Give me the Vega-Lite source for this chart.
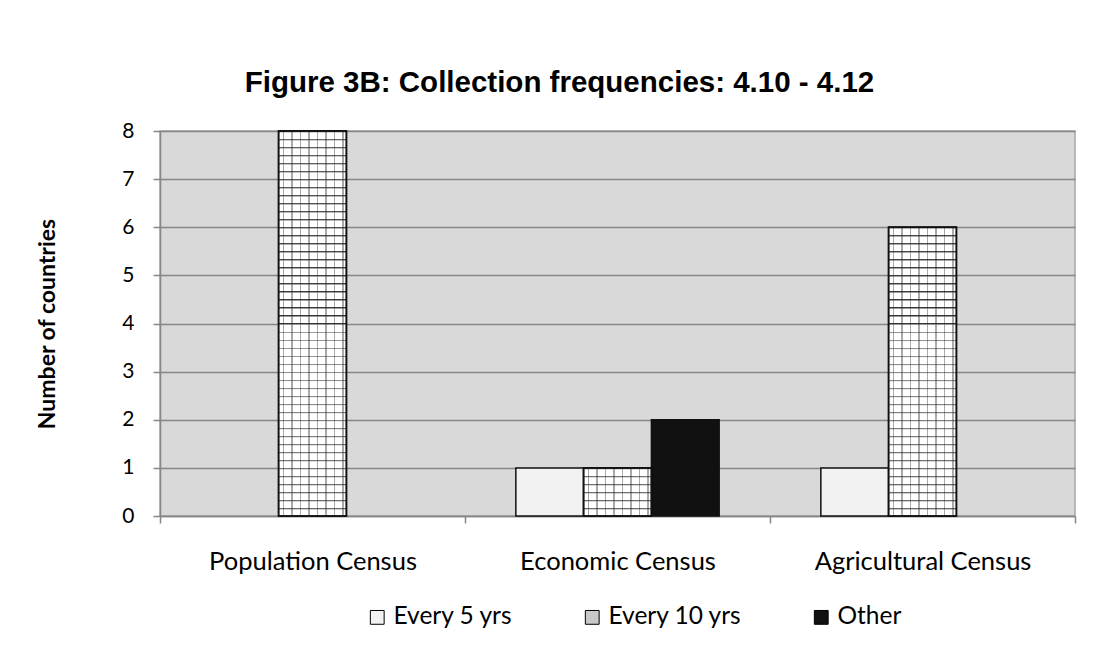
{
  "$schema": "https://vega.github.io/schema/vega-lite/v6.json",
  "width": 915,
  "height": 385,
  "autosize": {"type": "none"},
  "padding": {"left": 160, "top": 131, "right": 43, "bottom": 151},
  "background": "white",
  "title": {"text": "Figure 3B: Collection frequencies: 4.10 - 4.12", "font": "Liberation Sans", "fontSize": 29.5, "fontWeight": "bold", "color": "#000000", "anchor": "middle", "dx": -58, "offset": 22},
  "data": {"values": [
    {"census": "Population Census", "freq": "Every 10 yrs", "count": 8},
    {"census": "Economic Census", "freq": "Every 5 yrs", "count": 1},
    {"census": "Economic Census", "freq": "Every 10 yrs", "count": 1},
    {"census": "Economic Census", "freq": "Other", "count": 2},
    {"census": "Agricultural Census", "freq": "Every 5 yrs", "count": 1},
    {"census": "Agricultural Census", "freq": "Every 10 yrs", "count": 6}
  ]},
  "encoding": {
    "x": {"field": "census", "type": "nominal", "sort": ["Population Census", "Economic Census", "Agricultural Census"],
      "scale": {"paddingInner": 0, "paddingOuter": 0},
      "axis": {"title": null, "labelAngle": 0, "labelLimit": 400, "grid": false, "domainColor": "#868686", "domainWidth": 1.5, "tickColor": "#868686", "tickWidth": 1.5, "tickSize": 7, "tickBand": "extent", "labelFont": "Lato", "labelFontSize": 25.5, "labelColor": "#000000", "labelPadding": 26}},
    "xOffset": {"field": "freq", "type": "nominal", "scale": {"domain": ["Every 5 yrs", "Every 10 yrs", "Other"], "paddingInner": 0, "paddingOuter": 0.75}},
    "y": {"field": "count", "type": "quantitative", "scale": {"domain": [0, 8], "nice": false},
      "axis": {"values": [0, 1, 2, 3, 4, 5, 6, 7, 8], "title": "Number of countries", "titleFont": "Lato", "titleFontSize": 23, "titleFontWeight": "bold", "titleColor": "#000000", "titlePadding": 62, "labelFont": "Lato", "labelFontSize": 21, "labelColor": "#000000", "labelPadding": 19, "tickSize": 7, "tickColor": "#868686", "tickWidth": 1.5, "domainColor": "#868686", "domainWidth": 1.5, "gridColor": "#868686", "gridWidth": 1.5}}
  },
  "layer": [
    {
      "mark": {"type": "bar", "stroke": "#111111", "strokeWidth": 1.5},
      "encoding": {
        "fill": {"field": "freq", "type": "nominal", "scale": {"domain": ["Every 5 yrs", "Every 10 yrs", "Other"], "range": ["#F2F2F2", "#C8C8C8", "#111111"]},
          "legend": {"title": null, "orient": "none", "legendX": 205, "legendY": 474, "direction": "horizontal", "symbolType": "square", "symbolSize": 190, "symbolStrokeColor": "#000000", "symbolStrokeWidth": 1, "labelFont": "Lato", "labelFontSize": 24.5, "labelLimit": 300, "labelColor": "#000000", "columnPadding": 67, "labelOffset": 4}}
      }
    },
    {
      "transform": [{"filter": "datum.freq === 'Every 10 yrs' && datum.count === 8"}],
      "mark": {"type": "bar", "stroke": "#111111", "strokeWidth": 1.5, "fill": {"gradient": "linear", "x1": 0, "y1": 0, "x2": 0, "y2": 1, "stops": [
        {"offset": 0, "color": "#333"}, {"offset": 0.005, "color": "#fff"}, {"offset": 0.0208, "color": "#fff"},
        {"offset": 0.0208, "color": "#333"}, {"offset": 0.0258, "color": "#fff"}, {"offset": 0.0417, "color": "#fff"},
        {"offset": 0.0417, "color": "#333"}, {"offset": 0.0467, "color": "#fff"}, {"offset": 0.0625, "color": "#fff"},
        {"offset": 0.0625, "color": "#333"}, {"offset": 0.0675, "color": "#fff"}, {"offset": 0.0833, "color": "#fff"},
        {"offset": 0.0833, "color": "#333"}, {"offset": 0.0883, "color": "#fff"}, {"offset": 0.1042, "color": "#fff"},
        {"offset": 0.1042, "color": "#333"}, {"offset": 0.1092, "color": "#fff"}, {"offset": 0.125, "color": "#fff"},
        {"offset": 0.125, "color": "#333"}, {"offset": 0.13, "color": "#fff"}, {"offset": 0.1458, "color": "#fff"},
        {"offset": 0.1458, "color": "#333"}, {"offset": 0.1508, "color": "#fff"}, {"offset": 0.1667, "color": "#fff"},
        {"offset": 0.1667, "color": "#333"}, {"offset": 0.1717, "color": "#fff"}, {"offset": 0.1875, "color": "#fff"},
        {"offset": 0.1875, "color": "#333"}, {"offset": 0.1925, "color": "#fff"}, {"offset": 0.2083, "color": "#fff"},
        {"offset": 0.2083, "color": "#333"}, {"offset": 0.2133, "color": "#fff"}, {"offset": 0.2292, "color": "#fff"},
        {"offset": 0.2292, "color": "#333"}, {"offset": 0.2342, "color": "#fff"}, {"offset": 0.25, "color": "#fff"},
        {"offset": 0.25, "color": "#333"}, {"offset": 0.255, "color": "#fff"}, {"offset": 0.2708, "color": "#fff"},
        {"offset": 0.2708, "color": "#333"}, {"offset": 0.2758, "color": "#fff"}, {"offset": 0.2917, "color": "#fff"},
        {"offset": 0.2917, "color": "#333"}, {"offset": 0.2967, "color": "#fff"}, {"offset": 0.3125, "color": "#fff"},
        {"offset": 0.3125, "color": "#333"}, {"offset": 0.3175, "color": "#fff"}, {"offset": 0.3333, "color": "#fff"},
        {"offset": 0.3333, "color": "#333"}, {"offset": 0.3383, "color": "#fff"}, {"offset": 0.3542, "color": "#fff"},
        {"offset": 0.3542, "color": "#333"}, {"offset": 0.3592, "color": "#fff"}, {"offset": 0.375, "color": "#fff"},
        {"offset": 0.375, "color": "#333"}, {"offset": 0.38, "color": "#fff"}, {"offset": 0.3958, "color": "#fff"},
        {"offset": 0.3958, "color": "#333"}, {"offset": 0.4008, "color": "#fff"}, {"offset": 0.4167, "color": "#fff"},
        {"offset": 0.4167, "color": "#333"}, {"offset": 0.4217, "color": "#fff"}, {"offset": 0.4375, "color": "#fff"},
        {"offset": 0.4375, "color": "#333"}, {"offset": 0.4425, "color": "#fff"}, {"offset": 0.4583, "color": "#fff"},
        {"offset": 0.4583, "color": "#333"}, {"offset": 0.4633, "color": "#fff"}, {"offset": 0.4792, "color": "#fff"},
        {"offset": 0.4792, "color": "#333"}, {"offset": 0.4842, "color": "#fff"}, {"offset": 0.5, "color": "#fff"},
        {"offset": 0.5, "color": "#333"}, {"offset": 0.505, "color": "#fff"}, {"offset": 0.5208, "color": "#fff"},
        {"offset": 0.5208, "color": "#333"}, {"offset": 0.5258, "color": "#fff"}, {"offset": 0.5417, "color": "#fff"},
        {"offset": 0.5417, "color": "#333"}, {"offset": 0.5467, "color": "#fff"}, {"offset": 0.5625, "color": "#fff"},
        {"offset": 0.5625, "color": "#333"}, {"offset": 0.5675, "color": "#fff"}, {"offset": 0.5833, "color": "#fff"},
        {"offset": 0.5833, "color": "#333"}, {"offset": 0.5883, "color": "#fff"}, {"offset": 0.6042, "color": "#fff"},
        {"offset": 0.6042, "color": "#333"}, {"offset": 0.6092, "color": "#fff"}, {"offset": 0.625, "color": "#fff"},
        {"offset": 0.625, "color": "#333"}, {"offset": 0.63, "color": "#fff"}, {"offset": 0.6458, "color": "#fff"},
        {"offset": 0.6458, "color": "#333"}, {"offset": 0.6508, "color": "#fff"}, {"offset": 0.6667, "color": "#fff"},
        {"offset": 0.6667, "color": "#333"}, {"offset": 0.6717, "color": "#fff"}, {"offset": 0.6875, "color": "#fff"},
        {"offset": 0.6875, "color": "#333"}, {"offset": 0.6925, "color": "#fff"}, {"offset": 0.7083, "color": "#fff"},
        {"offset": 0.7083, "color": "#333"}, {"offset": 0.7133, "color": "#fff"}, {"offset": 0.7292, "color": "#fff"},
        {"offset": 0.7292, "color": "#333"}, {"offset": 0.7342, "color": "#fff"}, {"offset": 0.75, "color": "#fff"},
        {"offset": 0.75, "color": "#333"}, {"offset": 0.755, "color": "#fff"}, {"offset": 0.7708, "color": "#fff"},
        {"offset": 0.7708, "color": "#333"}, {"offset": 0.7758, "color": "#fff"}, {"offset": 0.7917, "color": "#fff"},
        {"offset": 0.7917, "color": "#333"}, {"offset": 0.7967, "color": "#fff"}, {"offset": 0.8125, "color": "#fff"},
        {"offset": 0.8125, "color": "#333"}, {"offset": 0.8175, "color": "#fff"}, {"offset": 0.8333, "color": "#fff"},
        {"offset": 0.8333, "color": "#333"}, {"offset": 0.8383, "color": "#fff"}, {"offset": 0.8542, "color": "#fff"},
        {"offset": 0.8542, "color": "#333"}, {"offset": 0.8592, "color": "#fff"}, {"offset": 0.875, "color": "#fff"},
        {"offset": 0.875, "color": "#333"}, {"offset": 0.88, "color": "#fff"}, {"offset": 0.8958, "color": "#fff"},
        {"offset": 0.8958, "color": "#333"}, {"offset": 0.9008, "color": "#fff"}, {"offset": 0.9167, "color": "#fff"},
        {"offset": 0.9167, "color": "#333"}, {"offset": 0.9217, "color": "#fff"}, {"offset": 0.9375, "color": "#fff"},
        {"offset": 0.9375, "color": "#333"}, {"offset": 0.9425, "color": "#fff"}, {"offset": 0.9583, "color": "#fff"},
        {"offset": 0.9583, "color": "#333"}, {"offset": 0.9633, "color": "#fff"}, {"offset": 0.9792, "color": "#fff"},
        {"offset": 0.9792, "color": "#333"}, {"offset": 0.9842, "color": "#fff"}, {"offset": 1, "color": "#fff"}
      ]}}
    },
    {
      "transform": [{"filter": "datum.freq === 'Every 10 yrs' && datum.count === 6"}],
      "mark": {"type": "bar", "stroke": "#111111", "strokeWidth": 1.5, "fill": {"gradient": "linear", "x1": 0, "y1": 0, "x2": 0, "y2": 1, "stops": [
        {"offset": 0, "color": "#333"}, {"offset": 0.007, "color": "#fff"}, {"offset": 0.0278, "color": "#fff"},
        {"offset": 0.0278, "color": "#333"}, {"offset": 0.0348, "color": "#fff"}, {"offset": 0.0556, "color": "#fff"},
        {"offset": 0.0556, "color": "#333"}, {"offset": 0.0626, "color": "#fff"}, {"offset": 0.0833, "color": "#fff"},
        {"offset": 0.0833, "color": "#333"}, {"offset": 0.0903, "color": "#fff"}, {"offset": 0.1111, "color": "#fff"},
        {"offset": 0.1111, "color": "#333"}, {"offset": 0.1181, "color": "#fff"}, {"offset": 0.1389, "color": "#fff"},
        {"offset": 0.1389, "color": "#333"}, {"offset": 0.1459, "color": "#fff"}, {"offset": 0.1667, "color": "#fff"},
        {"offset": 0.1667, "color": "#333"}, {"offset": 0.1737, "color": "#fff"}, {"offset": 0.1944, "color": "#fff"},
        {"offset": 0.1944, "color": "#333"}, {"offset": 0.2014, "color": "#fff"}, {"offset": 0.2222, "color": "#fff"},
        {"offset": 0.2222, "color": "#333"}, {"offset": 0.2292, "color": "#fff"}, {"offset": 0.25, "color": "#fff"},
        {"offset": 0.25, "color": "#333"}, {"offset": 0.257, "color": "#fff"}, {"offset": 0.2778, "color": "#fff"},
        {"offset": 0.2778, "color": "#333"}, {"offset": 0.2848, "color": "#fff"}, {"offset": 0.3056, "color": "#fff"},
        {"offset": 0.3056, "color": "#333"}, {"offset": 0.3126, "color": "#fff"}, {"offset": 0.3333, "color": "#fff"},
        {"offset": 0.3333, "color": "#333"}, {"offset": 0.3403, "color": "#fff"}, {"offset": 0.3611, "color": "#fff"},
        {"offset": 0.3611, "color": "#333"}, {"offset": 0.3681, "color": "#fff"}, {"offset": 0.3889, "color": "#fff"},
        {"offset": 0.3889, "color": "#333"}, {"offset": 0.3959, "color": "#fff"}, {"offset": 0.4167, "color": "#fff"},
        {"offset": 0.4167, "color": "#333"}, {"offset": 0.4237, "color": "#fff"}, {"offset": 0.4444, "color": "#fff"},
        {"offset": 0.4444, "color": "#333"}, {"offset": 0.4514, "color": "#fff"}, {"offset": 0.4722, "color": "#fff"},
        {"offset": 0.4722, "color": "#333"}, {"offset": 0.4792, "color": "#fff"}, {"offset": 0.5, "color": "#fff"},
        {"offset": 0.5, "color": "#333"}, {"offset": 0.507, "color": "#fff"}, {"offset": 0.5278, "color": "#fff"},
        {"offset": 0.5278, "color": "#333"}, {"offset": 0.5348, "color": "#fff"}, {"offset": 0.5556, "color": "#fff"},
        {"offset": 0.5556, "color": "#333"}, {"offset": 0.5626, "color": "#fff"}, {"offset": 0.5833, "color": "#fff"},
        {"offset": 0.5833, "color": "#333"}, {"offset": 0.5903, "color": "#fff"}, {"offset": 0.6111, "color": "#fff"},
        {"offset": 0.6111, "color": "#333"}, {"offset": 0.6181, "color": "#fff"}, {"offset": 0.6389, "color": "#fff"},
        {"offset": 0.6389, "color": "#333"}, {"offset": 0.6459, "color": "#fff"}, {"offset": 0.6667, "color": "#fff"},
        {"offset": 0.6667, "color": "#333"}, {"offset": 0.6737, "color": "#fff"}, {"offset": 0.6944, "color": "#fff"},
        {"offset": 0.6944, "color": "#333"}, {"offset": 0.7014, "color": "#fff"}, {"offset": 0.7222, "color": "#fff"},
        {"offset": 0.7222, "color": "#333"}, {"offset": 0.7292, "color": "#fff"}, {"offset": 0.75, "color": "#fff"},
        {"offset": 0.75, "color": "#333"}, {"offset": 0.757, "color": "#fff"}, {"offset": 0.7778, "color": "#fff"},
        {"offset": 0.7778, "color": "#333"}, {"offset": 0.7848, "color": "#fff"}, {"offset": 0.8056, "color": "#fff"},
        {"offset": 0.8056, "color": "#333"}, {"offset": 0.8126, "color": "#fff"}, {"offset": 0.8333, "color": "#fff"},
        {"offset": 0.8333, "color": "#333"}, {"offset": 0.8403, "color": "#fff"}, {"offset": 0.8611, "color": "#fff"},
        {"offset": 0.8611, "color": "#333"}, {"offset": 0.8681, "color": "#fff"}, {"offset": 0.8889, "color": "#fff"},
        {"offset": 0.8889, "color": "#333"}, {"offset": 0.8959, "color": "#fff"}, {"offset": 0.9167, "color": "#fff"},
        {"offset": 0.9167, "color": "#333"}, {"offset": 0.9237, "color": "#fff"}, {"offset": 0.9444, "color": "#fff"},
        {"offset": 0.9444, "color": "#333"}, {"offset": 0.9514, "color": "#fff"}, {"offset": 0.9722, "color": "#fff"},
        {"offset": 0.9722, "color": "#333"}, {"offset": 0.9792, "color": "#fff"}, {"offset": 1, "color": "#fff"}
      ]}}
    },
    {
      "transform": [{"filter": "datum.freq === 'Every 10 yrs' && datum.count === 1"}],
      "mark": {"type": "bar", "stroke": "#111111", "strokeWidth": 1.5, "fill": {"gradient": "linear", "x1": 0, "y1": 0, "x2": 0, "y2": 1, "stops": [
        {"offset": 0, "color": "#333"}, {"offset": 0.04, "color": "#fff"}, {"offset": 0.1667, "color": "#fff"},
        {"offset": 0.1667, "color": "#333"}, {"offset": 0.2067, "color": "#fff"}, {"offset": 0.3333, "color": "#fff"},
        {"offset": 0.3333, "color": "#333"}, {"offset": 0.3733, "color": "#fff"}, {"offset": 0.5, "color": "#fff"},
        {"offset": 0.5, "color": "#333"}, {"offset": 0.54, "color": "#fff"}, {"offset": 0.6667, "color": "#fff"},
        {"offset": 0.6667, "color": "#333"}, {"offset": 0.7067, "color": "#fff"}, {"offset": 0.8333, "color": "#fff"},
        {"offset": 0.8333, "color": "#333"}, {"offset": 0.8733, "color": "#fff"}, {"offset": 1, "color": "#fff"}
      ]}}
    },
    {
      "transform": [{"filter": "datum.freq === 'Every 10 yrs'"}],
      "mark": {"type": "bar", "stroke": "#111111", "strokeWidth": 1.5, "fill": {"gradient": "linear", "x1": 0, "y1": 0, "x2": 1, "y2": 0, "stops": [
        {"offset": 0, "color": "rgba(0,0,0,0)"}, {"offset": 0.0625, "color": "rgba(0,0,0,0)"}, {"offset": 0.0625, "color": "rgba(40,40,40,0.4)"}, {"offset": 0.0825, "color": "rgba(40,40,40,0.4)"}, {"offset": 0.0825, "color": "rgba(0,0,0,0)"},
        {"offset": 0.1875, "color": "rgba(0,0,0,0)"}, {"offset": 0.1875, "color": "rgba(40,40,40,0.4)"}, {"offset": 0.2075, "color": "rgba(40,40,40,0.4)"}, {"offset": 0.2075, "color": "rgba(0,0,0,0)"},
        {"offset": 0.3125, "color": "rgba(0,0,0,0)"}, {"offset": 0.3125, "color": "rgba(40,40,40,0.4)"}, {"offset": 0.3325, "color": "rgba(40,40,40,0.4)"}, {"offset": 0.3325, "color": "rgba(0,0,0,0)"},
        {"offset": 0.4375, "color": "rgba(0,0,0,0)"}, {"offset": 0.4375, "color": "rgba(40,40,40,0.4)"}, {"offset": 0.4575, "color": "rgba(40,40,40,0.4)"}, {"offset": 0.4575, "color": "rgba(0,0,0,0)"},
        {"offset": 0.5625, "color": "rgba(0,0,0,0)"}, {"offset": 0.5625, "color": "rgba(40,40,40,0.4)"}, {"offset": 0.5825, "color": "rgba(40,40,40,0.4)"}, {"offset": 0.5825, "color": "rgba(0,0,0,0)"},
        {"offset": 0.6875, "color": "rgba(0,0,0,0)"}, {"offset": 0.6875, "color": "rgba(40,40,40,0.4)"}, {"offset": 0.7075, "color": "rgba(40,40,40,0.4)"}, {"offset": 0.7075, "color": "rgba(0,0,0,0)"},
        {"offset": 0.8125, "color": "rgba(0,0,0,0)"}, {"offset": 0.8125, "color": "rgba(40,40,40,0.4)"}, {"offset": 0.8325, "color": "rgba(40,40,40,0.4)"}, {"offset": 0.8325, "color": "rgba(0,0,0,0)"},
        {"offset": 0.9375, "color": "rgba(0,0,0,0)"}, {"offset": 0.9375, "color": "rgba(40,40,40,0.4)"}, {"offset": 0.9575, "color": "rgba(40,40,40,0.4)"}, {"offset": 0.9575, "color": "rgba(0,0,0,0)"},
        {"offset": 1, "color": "rgba(0,0,0,0)"}
      ]}}
    }
  ],
  "config": {
    "view": {"fill": "#D9D9D9", "stroke": "#A6A6A6", "strokeWidth": 1.5}
  }
}
